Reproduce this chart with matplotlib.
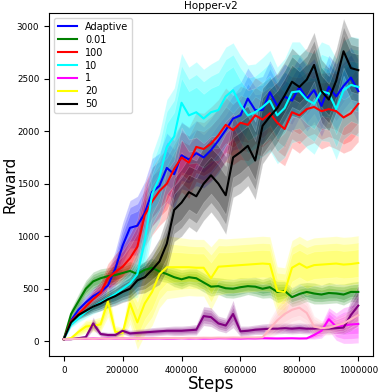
import matplotlib
matplotlib.use("Agg")
import matplotlib.pyplot as plt
import numpy as np

# evaluation steps (thousands)
steps_k = [0, 25, 50, 75, 100, 125, 150, 175, 200, 225, 250, 275, 300, 325, 350,
           375, 400, 425, 450, 475, 500, 525, 550, 575, 600, 625, 650, 675, 700,
           725, 750, 775, 800, 825, 850, 875, 900, 925, 950, 975, 1000]

# mean reward per run
adaptive = [20, 200, 300, 370, 430, 470, 530, 690, 910, 1080, 1100, 1220, 1420, 1480,
            1650, 1590, 1770, 1730, 1790, 1750, 1820, 1910, 2010, 2120, 2150, 2310,
            2200, 2200, 2370, 2240, 2330, 2290, 2420, 2310, 2390, 2240, 2420, 2330,
            2430, 2510, 2380]
adaptive_sd = [5, 40, 60, 70, 80, 100, 130, 170, 220, 260, 280, 300, 320, 310, 330,
               320, 320, 300, 310, 290, 300, 310, 290, 300, 310, 290, 300, 320, 300,
               290, 310, 300, 290, 310, 300, 290, 300, 310, 300, 290, 300]

g001 = [20, 260, 380, 500, 570, 600, 620, 630, 650, 670, 640, 680, 700, 665, 640,
        610, 590, 610, 600, 560, 520, 525, 505, 500, 515, 525, 520, 500, 515, 470,
        480, 420, 450, 470, 455, 445, 460, 455, 445, 470, 470]
g001_sd = [5, 50, 70, 80, 90, 90, 80, 90, 80, 90, 90, 80, 90, 90, 80, 90, 90, 80, 90,
           90, 90, 80, 90, 90, 90, 80, 90, 90, 100, 100, 90, 90, 100, 90, 100, 90, 100,
           90, 100, 90, 100]

r100 = [20, 190, 260, 330, 400, 460, 600, 660, 710, 790, 900, 1200, 1330, 1430, 1500,
        1640, 1750, 1700, 1850, 1830, 1880, 1960, 2060, 2010, 2080, 2060, 2150, 2110,
        2170, 2080, 2020, 2180, 2150, 2210, 2230, 2190, 2210, 2190, 2130, 2170, 2260]
r100_sd = [5, 30, 50, 70, 90, 110, 140, 170, 200, 230, 260, 300, 320, 330, 330, 320,
           330, 340, 330, 340, 350, 340, 350, 330, 350, 340, 360, 350, 340, 360, 350,
           340, 360, 350, 340, 360, 350, 360, 340, 350, 360]

c10 = [20, 160, 220, 280, 330, 370, 410, 450, 500, 550, 640, 950, 1400, 1560, 1850,
       1950, 2270, 2150, 2180, 2120, 2180, 2200, 2330, 2390, 2250, 2150, 2180, 2230,
       2290, 2150, 2220, 2370, 2380, 2300, 2260, 2380, 2360, 2210, 2390, 2440, 2420]
c10_sd = [5, 30, 40, 60, 70, 80, 90, 100, 120, 150, 220, 300, 380, 420, 450, 460,
          470, 460, 480, 470, 460, 480, 470, 450, 470, 480, 460, 470, 480, 460, 470,
          480, 470, 460, 480, 470, 460, 480, 470, 460, 470]

m1 = [20, 22, 25, 24, 27, 25, 28, 26, 27, 25, 28, 26, 27, 28, 26, 27, 29, 27, 28, 26,
      27, 29, 28, 27, 26, 28, 27, 29, 28, 27, 28, 29, 27, 28, 60, 100, 210, 140, 150,
      160, 165]
m1_sd = [2, 4, 5, 5, 6, 5, 6, 5, 6, 5, 6, 5, 6, 6, 5, 6, 6, 5, 6, 5, 6, 6, 5, 6, 5,
         6, 5, 6, 6, 5, 6, 6, 5, 6, 40, 70, 110, 130, 170, 180, 180]

y20 = [20, 30, 90, 140, 150, 160, 380, 90, 80, 360, 180, 360, 470, 640, 705, 705,
       705, 705, 700, 700, 600, 710, 715, 720, 725, 730, 735, 740, 735, 480, 470,
       700, 740, 700, 725, 730, 735, 740, 730, 735, 745]
y20_sd = [2, 10, 40, 60, 60, 70, 150, 60, 50, 200, 260, 300, 320, 320, 300, 290,
          280, 270, 270, 270, 300, 270, 260, 260, 260, 260, 260, 260, 260, 230, 230,
          260, 260, 260, 260, 260, 260, 260, 260, 260, 260]

k50 = [20, 180, 250, 290, 330, 360, 400, 430, 470, 500, 580, 610, 680, 760, 930,
       1250, 1320, 1420, 1380, 1500, 1580, 1500, 1390, 1750, 1800, 1860, 1720, 2050,
       2140, 2220, 2340, 2470, 2420, 2490, 2630, 2380, 2300, 2480, 2760, 2600, 2580]
k50_sd = [5, 30, 40, 50, 60, 70, 80, 90, 100, 110, 130, 150, 180, 220, 260, 300,
          320, 330, 340, 350, 350, 360, 370, 380, 390, 380, 370, 360, 350, 330, 320,
          320, 300, 300, 310, 300, 300, 300, 310, 300, 300]

# two extra runs drawn without legend entries
purple = [20, 20, 30, 40, 170, 70, 60, 60, 100, 75, 80, 85, 90, 95, 100, 100, 100,
          105, 110, 240, 230, 170, 150, 260, 95, 100, 110, 115, 120, 120, 125, 120,
          125, 120, 120, 125, 120, 125, 130, 250, 340]
purple_sd = [2, 5, 10, 20, 60, 25, 25, 25, 30, 30, 35, 35, 40, 40, 40, 45, 45, 45,
             50, 90, 90, 70, 70, 130, 50, 45, 45, 50, 50, 50, 50, 50, 50, 50, 50, 50,
             50, 50, 60, 150, 190]

pink = [20, 22, 24, 26, 25, 27, 26, 28, 27, 29, 28, 30, 29, 31, 30, 32, 31, 33, 32,
        34, 33, 35, 34, 36, 35, 37, 36, 38, 120, 200, 260, 300, 320, 270, 140, 125,
        130, 150, 170, 210, 250]
pink_sd = [2, 4, 5, 5, 6, 6, 6, 7, 7, 7, 8, 8, 8, 9, 9, 9, 10, 10, 10, 10, 10, 10,
           10, 10, 10, 10, 10, 10, 90, 130, 150, 150, 150, 140, 100, 70, 70, 80, 90,
           100, 110]

x = np.array(steps_k) * 1000

runs = [
    ("Adaptive", adaptive, adaptive_sd, "blue"),
    ("0.01", g001, g001_sd, "green"),
    ("100", r100, r100_sd, "red"),
    ("10", c10, c10_sd, "cyan"),
    ("1", m1, m1_sd, "magenta"),
    ("20", y20, y20_sd, "yellow"),
    ("50", k50, k50_sd, "black"),
    (None, purple, purple_sd, "purple"),
    (None, pink, pink_sd, "lightpink"),
]

fig = plt.figure(figsize=(3.78, 3.92), dpi=100)
ax = fig.add_axes([0.1296, 0.0918, 0.8572, 0.875])

for label, mean, sd, color in runs:
    mean = np.array(mean, dtype=float)
    sd = np.array(sd, dtype=float)
    ax.plot(x, mean, color=color, linewidth=1.5, label=label)
    # layered shading with white outlines
    for k in (1.0, 0.75, 0.5):
        ax.fill_between(x, mean - k * sd, mean + k * sd, facecolor=color,
                        alpha=0.21, edgecolor="white", linewidth=0.5)

ax.set_xlim(-50000, 1050000)
ax.set_ylim(-140, 3124)
ax.set_xticks([0, 200000, 400000, 600000, 800000, 1000000])
ax.set_yticks([0, 500, 1000, 1500, 2000, 2500, 3000])
ax.ticklabel_format(style="plain", axis="x", useOffset=False)
ax.tick_params(labelsize=6.3, length=3.5)
ax.set_title("Hopper-v2", fontsize=7.5, pad=3)
ax.set_xlabel("Steps", fontsize=12, labelpad=0)
ax.set_ylabel("Reward", fontsize=11)
ax.yaxis.set_label_coords(-0.097, 0.5)

handles, labels = ax.get_legend_handles_labels()
ax.legend(handles[:7], labels[:7], loc="upper left", fontsize=7,
          handlelength=2.0, labelspacing=0.3, borderpad=0.4)

fig.savefig("out.png", dpi=100)
